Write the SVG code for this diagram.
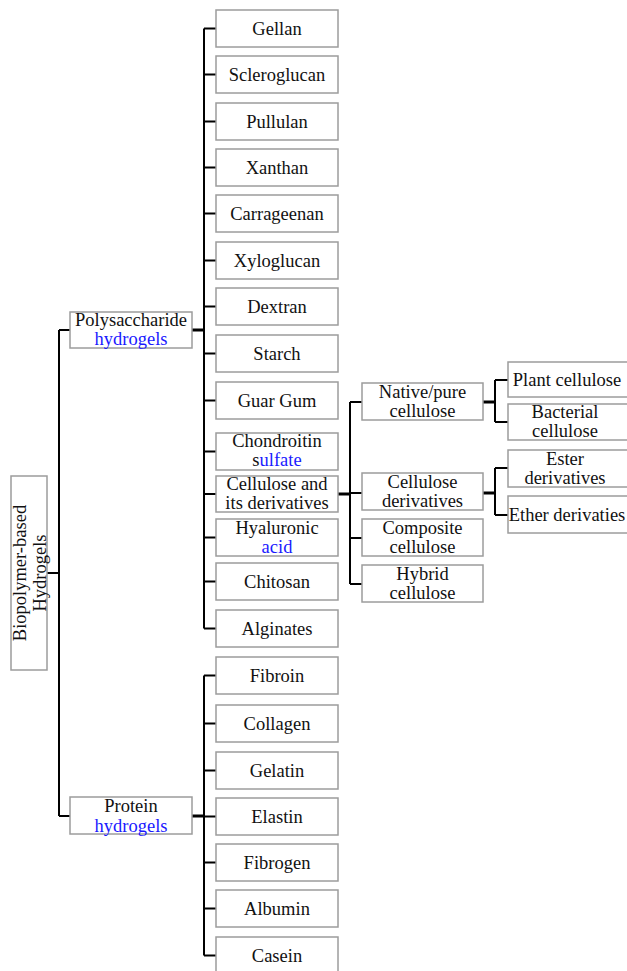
<svg xmlns="http://www.w3.org/2000/svg" width="627" height="971" viewBox="0 0 627 971">
<style>
rect.b{fill:#fff;stroke:#9c9c9c;stroke-width:1.5}
text{font-family:"Liberation Serif","Times New Roman",serif;font-size:18.5px;fill:#111;text-anchor:middle}
.bl{fill:#1a1aff}
.c path{fill:none;stroke:#000;stroke-width:2}
.c path.t{stroke-width:3}
</style>
<rect width="627" height="971" fill="#fff"/>
<g class="c" id="connectors">
<path d="M59 330V816M59 330H70M59 816H70M47 573H59"/>
<path class="t" d="M192 330H204M192 816H204M338 494H350M483 402H495M483 493H495"/>
<path d="M204 28.5V628.5M204 28.5H216M204 74.5H216M204 121.5H216M204 167.5H216M204 213.5H216M204 260.5H216M204 306.5H216M204 353.5H216M204 400.5H216M204 451.5H216M204 494H216M204 537.5H216M204 581.5H216M204 628.5H216"/>
<path d="M204 675.5V955.5M204 675.5H216M204 723.5H216M204 770.5H216M204 816.5H216M204 862.5H216M204 908.5H216M204 955.5H216"/>
<path d="M350 402V584M350 402H362M350 493H362M350 538H362M350 584H362"/>
<path d="M495 380V422M495 380H508M495 422H508M495 468V515M495 468H508M495 515H508"/>
</g>
<g id="root"><rect class="b" x="11" y="476" width="36" height="194"/><text transform="translate(29,573) rotate(-90)"><tspan x="0" y="-3">Biopolymer-based</tspan><tspan x="0" y="17">Hydrogels</tspan></text></g>
<g id="polysaccharide"><rect class="b" x="70" y="312" width="122" height="36"/><text x="131" y="326">Polysaccharide</text><text x="131" y="345" class="bl">hydrogels</text></g>
<g id="protein"><rect class="b" x="70" y="797" width="122" height="37"/><text x="131" y="812">Protein</text><text x="131" y="832" class="bl">hydrogels</text></g>
<g id="gellan"><rect class="b" x="216" y="10" width="122" height="37"/><text x="277" y="35">Gellan</text></g>
<g id="scleroglucan"><rect class="b" x="216" y="56" width="122" height="37"/><text x="277" y="81">Scleroglucan</text></g>
<g id="pullulan"><rect class="b" x="216" y="103" width="122" height="37"/><text x="277" y="128">Pullulan</text></g>
<g id="xanthan"><rect class="b" x="216" y="149" width="122" height="37"/><text x="277" y="174">Xanthan</text></g>
<g id="carrageenan"><rect class="b" x="216" y="195" width="122" height="37"/><text x="277" y="220">Carrageenan</text></g>
<g id="xyloglucan"><rect class="b" x="216" y="242" width="122" height="37"/><text x="277" y="267">Xyloglucan</text></g>
<g id="dextran"><rect class="b" x="216" y="288" width="122" height="37"/><text x="277" y="313">Dextran</text></g>
<g id="starch"><rect class="b" x="216" y="335" width="122" height="37"/><text x="277" y="360">Starch</text></g>
<g id="guargum"><rect class="b" x="216" y="382" width="122" height="37"/><text x="277" y="407">Guar Gum</text></g>
<g id="chondroitin"><rect class="b" x="216" y="433" width="122" height="37"/><text x="277" y="447">Chondroitin</text><text x="277" y="466">s<tspan class="bl">ulfate</tspan></text></g>
<g id="cellulose"><rect class="b" x="216" y="476" width="122" height="36"/><text x="277" y="490">Cellulose and</text><text x="277" y="509">its derivatives</text></g>
<g id="hyaluronic"><rect class="b" x="216" y="519" width="122" height="37"/><text x="277" y="534">Hyaluronic</text><text x="277" y="553" class="bl">acid</text></g>
<g id="chitosan"><rect class="b" x="216" y="563" width="122" height="37"/><text x="277" y="588">Chitosan</text></g>
<g id="alginates"><rect class="b" x="216" y="610" width="122" height="37"/><text x="277" y="635">Alginates</text></g>
<g id="fibroin"><rect class="b" x="216" y="657" width="122" height="37"/><text x="277" y="682">Fibroin</text></g>
<g id="collagen"><rect class="b" x="216" y="705" width="122" height="37"/><text x="277" y="730">Collagen</text></g>
<g id="gelatin"><rect class="b" x="216" y="752" width="122" height="37"/><text x="277" y="777">Gelatin</text></g>
<g id="elastin"><rect class="b" x="216" y="798" width="122" height="37"/><text x="277" y="823">Elastin</text></g>
<g id="fibrogen"><rect class="b" x="216" y="844" width="122" height="37"/><text x="277" y="869">Fibrogen</text></g>
<g id="albumin"><rect class="b" x="216" y="890" width="122" height="37"/><text x="277" y="915">Albumin</text></g>
<g id="casein"><rect class="b" x="216" y="937" width="122" height="37"/><text x="277" y="962">Casein</text></g>
<g id="native"><rect class="b" x="362" y="383" width="121" height="37"/><text x="422.5" y="398">Native/pure</text><text x="422.5" y="417">cellulose</text></g>
<g id="derivatives"><rect class="b" x="362" y="473" width="121" height="37"/><text x="422.5" y="488">Cellulose</text><text x="422.5" y="507">derivatives</text></g>
<g id="composite"><rect class="b" x="362" y="519" width="121" height="37"/><text x="422.5" y="534">Composite</text><text x="422.5" y="553">cellulose</text></g>
<g id="hybrid"><rect class="b" x="362" y="565" width="121" height="37"/><text x="422.5" y="580">Hybrid</text><text x="422.5" y="599">cellulose</text></g>
<g id="plant"><rect class="b" x="508" y="362" width="122" height="35"/><text x="567" y="386">Plant cellulose</text></g>
<g id="bacterial"><rect class="b" x="508" y="404" width="122" height="36"/><text x="565" y="418">Bacterial</text><text x="565" y="437">cellulose</text></g>
<g id="ester"><rect class="b" x="508" y="450" width="122" height="37"/><text x="565" y="465">Ester</text><text x="565" y="484">derivatives</text></g>
<g id="ether"><rect class="b" x="508" y="496" width="122" height="37"/><text x="567" y="521">Ether derivaties</text></g>
</svg>
